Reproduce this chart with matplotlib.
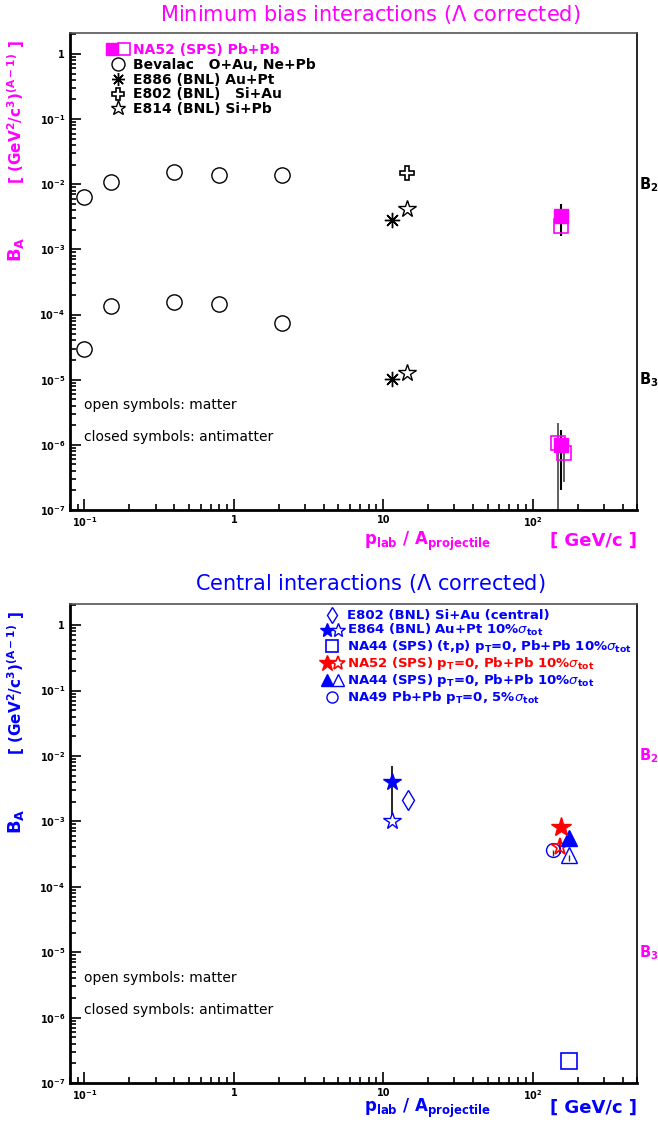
import matplotlib
matplotlib.use('Agg')
import matplotlib.pyplot as plt
import numpy as np
from matplotlib.ticker import FixedLocator, FuncFormatter, LogLocator, NullFormatter
from matplotlib.legend_handler import HandlerTuple

MAG = '#ff00ff'
BLUE = '#0000ff'
RED = '#ff0000'

# ---- minimum bias data (upper panel) ----
bev_x = [0.1, 0.15, 0.4, 0.8, 2.1]
bev_b2 = [6.3e-3, 1.07e-2, 1.53e-2, 1.38e-2, 1.38e-2]
bev_b3 = [3.0e-5, 1.33e-4, 1.58e-4, 1.47e-4, 7.3e-5]

e886_x = [11.5, 11.5]
e886_b = [2.8e-3, 1.04e-5]

e802_x = [14.5]
e802_b = [1.47e-2]

e814_x = [14.5, 14.5]
e814_b = [4.1e-3, 1.28e-5]

na52_fill_x = [156, 156]
na52_fill_b = [3.3e-3, 1.0e-6]
na52_fill_lo = [1.6e-3, 2.0e-7]
na52_fill_hi = [5.0e-3, 1.7e-6]

na52_open_x = [156, 147, 163]
na52_open_b = [2.25e-3, 1.07e-6, 7.5e-7]
na52_open_lo = [2.25e-3, 1e-9, 2.7e-7]
na52_open_hi = [2.25e-3, 2.2e-6, 1.2e-6]

# ---- central data (lower panel) ----
c_e802_x = [14.7]
c_e802_b = [2.1e-3]

e864_fill_x = [11.5]
e864_fill_b = [4.0e-3]
e864_fill_lo = [1.2e-3]
e864_fill_hi = [7.0e-3]
e864_open_x = [11.5]
e864_open_b = [1.03e-3]

na44tp_x = [174]
na44tp_b = [2.2e-7]

c_na52_fill_x = [156]
c_na52_fill_b = [8.3e-4]
c_na52_open_x = [152]
c_na52_open_b = [4.1e-4]
c_na52_open_lo = [3.2e-4]
c_na52_open_hi = [5.6e-4]

na44_fill_x = [174]
na44_fill_b = [5.5e-4]
na44_open_x = [174]
na44_open_b = [3.1e-4]
na44_open_lo = [2.5e-4]

na49_x = [138]
na49_b = [3.6e-4]
na49_lo = [3.0e-4]


def err(vals, lo, hi):
    v = np.array(vals)
    return [v - np.array(lo), np.array(hi) - v]


def fmt_x(v, pos):
    e = int(round(np.log10(v)))
    if e == 0:
        return '1'
    if e == 1:
        return '10'
    return r'$\mathbf{10^{%d}}$' % e


def fmt_y(v, pos):
    e = int(round(np.log10(v)))
    if e == 0:
        return '1'
    return r'$\mathbf{10^{%d}}$' % e


def style_axes(ax):
    ax.set_xscale('log')
    ax.set_yscale('log')
    ax.set_xlim(0.08, 500)
    ax.set_ylim(1e-7, 2.1)
    ax.xaxis.set_major_locator(FixedLocator([0.1, 1, 10, 100]))
    ax.xaxis.set_major_formatter(FuncFormatter(fmt_x))
    ax.xaxis.set_minor_locator(LogLocator(base=10, subs=np.arange(2, 10)))
    ax.xaxis.set_minor_formatter(NullFormatter())
    ax.yaxis.set_major_locator(FixedLocator([1e-7, 1e-6, 1e-5, 1e-4, 1e-3, 1e-2, 1e-1, 1]))
    ax.yaxis.set_major_formatter(FuncFormatter(fmt_y))
    ax.yaxis.set_minor_locator(LogLocator(base=10, subs=np.arange(2, 10)))
    ax.yaxis.set_minor_formatter(NullFormatter())
    ax.tick_params(which='both', direction='in', top=False, right=False,
                   labelsize=7, width=1.2)
    ax.tick_params(which='major', length=8)
    ax.tick_params(which='minor', length=4)
    for lab in ax.get_xticklabels() + ax.get_yticklabels():
        lab.set_fontweight('bold')
    ax.spines['left'].set_linewidth(2)
    ax.spines['bottom'].set_linewidth(2)
    ax.spines['top'].set_linewidth(1.2)
    ax.spines['right'].set_linewidth(1.2)
    ax.spines['top'].set_color('#555555')
    ax.text(0.1, 3.5e-6, 'open symbols: matter', fontsize=10)
    ax.text(0.1, 1.15e-6, 'closed symbols: antimatter', fontsize=10)


def labels(ax, col, bcol, ylow):
    ax.text(-0.095, 1e-3, r'B$_\mathbf{A}$', transform=ax.get_yaxis_transform(),
            rotation=90, color=col, fontsize=13, fontweight='bold',
            ha='center', va='center')
    ax.text(-0.095, 0.13, r'[ (GeV$^\mathbf{2}$/c$^\mathbf{3}$)$^\mathbf{(A-1)}$ ]',
            transform=ax.get_yaxis_transform(), rotation=90, color=col,
            fontsize=11, fontweight='bold', ha='center', va='center')
    ax.text(0.631, ylow, r'p$_\mathbf{lab}$ / A$_\mathbf{projectile}$',
            transform=ax.transAxes, color=col, fontsize=12, fontweight='bold',
            ha='center', va='center')
    ax.text(1.0, ylow, '[ GeV/c ]', transform=ax.transAxes, color=col,
            fontsize=13, fontweight='bold', ha='right', va='center')
    ax.text(1.004, 1e-2, r'B$_\mathbf{2}$', transform=ax.get_yaxis_transform(),
            color=bcol, fontsize=10.5, fontweight='bold', ha='left', va='center')
    ax.text(1.004, 1e-5, r'B$_\mathbf{3}$', transform=ax.get_yaxis_transform(),
            color=bcol, fontsize=10.5, fontweight='bold', ha='left', va='center')


fig = plt.figure(figsize=(6.58, 11.25), dpi=100)
ax1 = fig.add_axes([0.1064, 0.5467, 0.8617, 0.424])
ax2 = fig.add_axes([0.1064, 0.0373, 0.8617, 0.4258])

# ---------------- upper panel ----------------
ax1.errorbar(na52_open_x, na52_open_b, yerr=err(na52_open_b, na52_open_lo, na52_open_hi),
             fmt='none', ecolor='#444444', elinewidth=1.2, zorder=2)
ax1.errorbar(na52_fill_x, na52_fill_b, yerr=err(na52_fill_b, na52_fill_lo, na52_fill_hi),
             fmt='none', ecolor='black', elinewidth=1.5, zorder=2)
h_na52f, = ax1.plot(na52_fill_x, na52_fill_b, 's', ms=9.5, color=MAG, ls='none', zorder=3)
h_na52o, = ax1.plot(na52_open_x, na52_open_b, 's', ms=9.5, mfc='none', mec=MAG,
                    mew=1.2, ls='none', zorder=3)
h_bev, = ax1.plot(bev_x, bev_b2, 'o', ms=11, mfc='none', mec='black', mew=1, ls='none')
ax1.plot(bev_x, bev_b3, 'o', ms=11, mfc='none', mec='black', mew=1, ls='none')
h_e886, = ax1.plot(e886_x, e886_b, marker=(8, 2, 0), ms=11, color='black', mew=1, ls='none')
h_e802, = ax1.plot(e802_x, e802_b, 'P', ms=10, mfc='white', mec='black', mew=1.2, ls='none')
h_e814, = ax1.plot(e814_x, e814_b, '*', ms=13, mfc='white', mec='black', mew=1, ls='none')

leg1 = ax1.legend([(h_na52f, h_na52o), h_bev, h_e886, h_e802, h_e814],
                  ['NA52 (SPS) Pb+Pb', 'Bevalac   O+Au, Ne+Pb', 'E886 (BNL) Au+Pt',
                   'E802 (BNL)   Si+Au', 'E814 (BNL) Si+Pb'],
                  handler_map={tuple: HandlerTuple(ndivide=None, pad=0.1)},
                  loc='upper left', bbox_to_anchor=(0.055, 0.99), frameon=False,
                  labelspacing=0.05, handlelength=1.6, handletextpad=0.3,
                  borderaxespad=0, markerscale=0.85,
                  prop={'weight': 'bold', 'size': 10})
for t in leg1.get_texts():
    t.set_color('black')
leg1.get_texts()[0].set_color(MAG)

style_axes(ax1)
labels(ax1, MAG, 'black', -0.065)
fig.text(0.5625, 0.987, r'Minimum bias interactions ($\Lambda$ corrected)',
         color=MAG, fontsize=15, ha='center', va='center')

# ---------------- lower panel ----------------
ax2.errorbar(e864_fill_x, e864_fill_b, yerr=err(e864_fill_b, e864_fill_lo, e864_fill_hi),
             fmt='none', ecolor='black', elinewidth=1.2, zorder=2)
ax2.errorbar(c_na52_open_x, c_na52_open_b,
             yerr=err(c_na52_open_b, c_na52_open_lo, c_na52_open_hi),
             fmt='none', ecolor=RED, elinewidth=1.5, zorder=2)
ax2.errorbar(na44_open_x, na44_open_b, yerr=err(na44_open_b, na44_open_lo, na44_open_b),
             fmt='none', ecolor='#333333', elinewidth=1, zorder=2)
ax2.errorbar(na49_x, na49_b, yerr=err(na49_b, na49_lo, na49_b),
             fmt='none', ecolor='#333333', elinewidth=1, zorder=2)

h_c802, = ax2.plot(c_e802_x, c_e802_b, 'd', ms=10, mfc='none', mec=BLUE, mew=1, ls='none')
h_e864f, = ax2.plot(e864_fill_x, e864_fill_b, '*', ms=13, color=BLUE, ls='none')
h_e864o, = ax2.plot(e864_open_x, e864_open_b, '*', ms=13, mfc='white', mec=BLUE, mew=1, ls='none')
h_tp, = ax2.plot(na44tp_x, na44tp_b, 's', ms=11, mfc='none', mec=BLUE, mew=1.2, ls='none')
h_n49, = ax2.plot(na49_x, na49_b, 'o', ms=10, mfc='none', mec=BLUE, mew=1, ls='none')
h_n44o, = ax2.plot(na44_open_x, na44_open_b, '^', ms=11, mfc='none', mec=BLUE, mew=1, ls='none')
h_n52o, = ax2.plot(c_na52_open_x, c_na52_open_b, '*', ms=13, mfc='none', mec=RED, mew=1.2, ls='none')
h_n44f, = ax2.plot(na44_fill_x, na44_fill_b, '^', ms=11, color=BLUE, ls='none')
h_n52f, = ax2.plot(c_na52_fill_x, c_na52_fill_b, '*', ms=15, color=RED, ls='none')

leg2 = ax2.legend([h_c802, (h_e864f, h_e864o), h_tp, (h_n52f, h_n52o), (h_n44f, h_n44o), h_n49],
                  ['E802 (BNL) Si+Au (central)',
                   r'E864 (BNL) Au+Pt 10%$\sigma_\mathbf{tot}$',
                   r'NA44 (SPS) (t,p) p$_\mathbf{T}$=0, Pb+Pb 10%$\sigma_\mathbf{tot}$',
                   r'NA52 (SPS) p$_\mathbf{T}$=0, Pb+Pb 10%$\sigma_\mathbf{tot}$',
                   r'NA44 (SPS) p$_\mathbf{T}$=0, Pb+Pb 10%$\sigma_\mathbf{tot}$',
                   r'NA49 Pb+Pb p$_\mathbf{T}$=0, 5%$\sigma_\mathbf{tot}$'],
                  handler_map={tuple: HandlerTuple(ndivide=None, pad=0.1)},
                  loc='upper left', bbox_to_anchor=(0.435, 1.0), frameon=False,
                  labelspacing=0.0, handlelength=1.6, handletextpad=0.3,
                  borderaxespad=0, markerscale=0.8,
                  prop={'weight': 'bold', 'size': 9.5})
for t in leg2.get_texts():
    t.set_color(BLUE)
leg2.get_texts()[3].set_color(RED)

style_axes(ax2)
labels(ax2, BLUE, MAG, -0.052)
fig.text(0.5625, 0.4815, r'Central interactions ($\Lambda$ corrected)',
         color=BLUE, fontsize=15, ha='center', va='center')

fig.savefig('out.png', dpi=100)
